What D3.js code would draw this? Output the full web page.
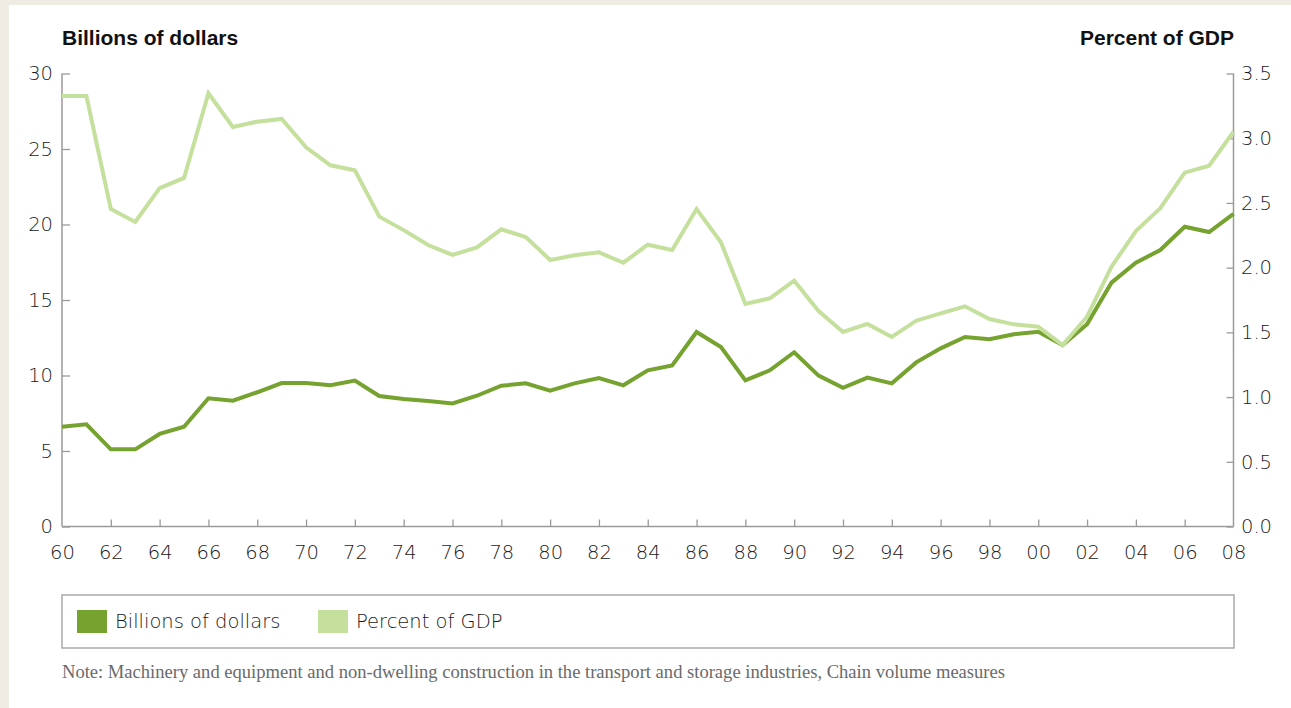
<!DOCTYPE html>
<html>
<head>
<meta charset="utf-8">
<script src="https://cdn.jsdelivr.net/npm/d3@7"></script>
<style>
  html, body { margin: 0; padding: 0; background: #EFECE4; }
  svg { display: block; }
</style>
</head>
<body>
<svg id="chart" width="1291" height="708"></svg>
<script>
const years = d3.range(1960, 2009);
const billions = [6.61, 6.77, 5.11, 5.11, 6.13, 6.61, 8.49, 8.33, 8.89, 9.50,
  9.50, 9.35, 9.66, 8.64, 8.44, 8.31, 8.15, 8.66, 9.32, 9.48,
  8.99, 9.48, 9.83, 9.35, 10.34, 10.67, 12.88, 11.89, 9.68, 10.34,
  11.54, 9.99, 9.18, 9.86, 9.48, 10.87, 11.80, 12.55, 12.40, 12.73,
  12.90, 12.02, 13.39, 16.15, 17.47, 18.31, 19.85, 19.50, 20.70];
const percentGDP = [3.326, 3.326, 2.453, 2.353, 2.615, 2.693, 3.347, 3.087, 3.128, 3.149,
  2.930, 2.791, 2.752, 2.394, 2.290, 2.175, 2.098, 2.157, 2.296, 2.237,
  2.059, 2.095, 2.118, 2.038, 2.177, 2.136, 2.453, 2.196, 1.719, 1.763,
  1.899, 1.665, 1.503, 1.565, 1.464, 1.590, 1.647, 1.701, 1.603, 1.562,
  1.544, 1.402, 1.621, 2.007, 2.283, 2.459, 2.734, 2.788, 3.050];
const leftTicks = [0, 5, 10, 15, 20, 25, 30];
const rightTicks = [0, 0.5, 1.0, 1.5, 2.0, 2.5, 3.0, 3.5];
const xTicks = d3.range(1960, 2009, 2);
const legendItems = ["Billions of dollars", "Percent of GDP"];
const colors = ["#76A22F", "#C5E09D"];
const noteText = "Note: Machinery and equipment and non-dwelling construction in the transport and storage industries, Chain volume measures";

const svg = d3.select("#chart");
const W = 1291, H = 708;
const m = {left: 62, right: 1233.5, top: 73.5, bottom: 526.5};

svg.append("rect").attr("x", 9).attr("y", 5).attr("width", W - 9).attr("height", H - 5).attr("fill", "#ffffff");

const x = d3.scaleLinear().domain([1960, 2008]).range([m.left, m.right]);
const yL = d3.scaleLinear().domain([0, 30]).range([m.bottom, m.top]);
const yR = d3.scaleLinear().domain([0, 3.5]).range([m.bottom, m.top]);

const sans = "'DejaVu Sans', 'Liberation Sans', sans-serif";
const axisColor = "#9a9a9a";

// Left axis
const gL = svg.append("g").attr("transform", `translate(${m.left},0)`)
  .call(d3.axisLeft(yL).tickValues(leftTicks).tickSize(-8).tickPadding(9).tickFormat(d3.format("d")));
// Right axis
const gR = svg.append("g").attr("transform", `translate(${m.right},0)`)
  .call(d3.axisRight(yR).tickValues(rightTicks).tickSize(-7).tickPadding(7.5).tickFormat(d3.format(".1f")));
// Bottom axis
const gB = svg.append("g").attr("transform", `translate(0,${m.bottom})`)
  .call(d3.axisBottom(x).tickValues(xTicks).tickSize(-7).tickPadding(19)
    .tickFormat(d => String(d % 100).padStart(2, "0")));

[gL, gR, gB].forEach(g => {
  g.select(".domain").attr("stroke", axisColor).attr("stroke-width", 1.5);
  g.selectAll(".tick line").attr("stroke", axisColor).attr("stroke-width", 1.3);
  g.selectAll(".tick text").attr("fill", "#1a1a1a").style("font-family", sans)
    .style("font-size", "19.5px").style("font-weight", 200);
});
gL.select(".domain").attr("d", `M0,${m.top}V${m.bottom}`);
gR.select(".domain").attr("d", `M0,${m.top}V${m.bottom}`);
gB.select(".domain").attr("d", `M${m.left},0H${m.right}`);
gB.selectAll(".tick").filter(d => d === 1960 || d === 2008).select("line").remove();
gB.selectAll(".tick text").attr("dy", "0.71em");

// Lines
const lineB = d3.line().x((d, i) => x(years[i])).y(d => yL(d));
const lineP = d3.line().x((d, i) => x(years[i])).y(d => yR(d));
svg.append("path").datum(billions).attr("d", lineB).attr("fill", "none")
  .attr("stroke", colors[0]).attr("stroke-width", 4).attr("stroke-linejoin", "miter");
svg.append("path").datum(percentGDP).attr("d", lineP).attr("fill", "none")
  .attr("stroke", colors[1]).attr("stroke-width", 4).attr("stroke-linejoin", "miter");

// Axis titles
svg.append("text").attr("x", 62).attr("y", 45).text("Billions of dollars")
  .style("font-family", "'Liberation Sans', Arial, sans-serif").style("font-weight", "bold")
  .style("font-size", "21px").attr("fill", "#111");
svg.append("text").attr("x", 1234).attr("y", 45).attr("text-anchor", "end").text("Percent of GDP")
  .style("font-family", "'Liberation Sans', Arial, sans-serif").style("font-weight", "bold")
  .style("font-size", "21px").attr("fill", "#111");

// Legend
svg.append("rect").attr("x", 62).attr("y", 595).attr("width", 1234 - 62).attr("height", 53)
  .attr("fill", "none").attr("stroke", "#aaaaaa").attr("stroke-width", 1.5);
const legendX = [77, 318];
legendItems.forEach((t, i) => {
  svg.append("rect").attr("x", legendX[i]).attr("y", 610).attr("width", 30).attr("height", 23).attr("fill", colors[i]);
  svg.append("text").attr("x", legendX[i] + 38).attr("y", 628).text(t)
    .style("font-family", sans).style("font-size", "19.5px").style("font-weight", 200).attr("fill", "#1a1a1a");
});

// Note
svg.append("text").attr("x", 62).attr("y", 678).text(noteText)
  .attr("textLength", 943).attr("lengthAdjust", "spacingAndGlyphs")
  .style("font-family", "'Liberation Serif', 'DejaVu Serif', serif").style("font-size", "18px").attr("fill", "#6a6a6a");
</script>
</body>
</html>
